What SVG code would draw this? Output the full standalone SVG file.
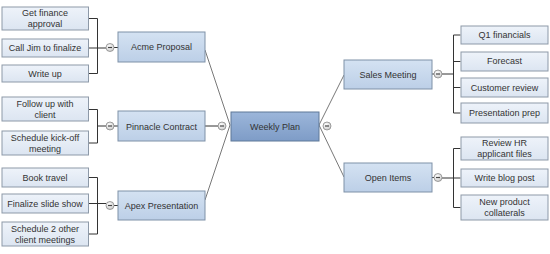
<svg xmlns="http://www.w3.org/2000/svg" width="550" height="254" viewBox="0 0 550 254">
<defs>
<linearGradient id="gLeaf" x1="0" y1="0" x2="0" y2="1"><stop offset="0" stop-color="#eef3fa"/><stop offset="1" stop-color="#dce5f1"/></linearGradient>
<linearGradient id="gMid" x1="0" y1="0" x2="0" y2="1"><stop offset="0" stop-color="#d4e2f2"/><stop offset="1" stop-color="#bccfe7"/></linearGradient>
<linearGradient id="gMain" x1="0" y1="0" x2="0" y2="1"><stop offset="0" stop-color="#9cb6da"/><stop offset="1" stop-color="#7e9cc7"/></linearGradient>
<radialGradient id="gBtn" cx="0.4" cy="0.35" r="0.7"><stop offset="0" stop-color="#ffffff"/><stop offset="1" stop-color="#c8c8c8"/></radialGradient>
<g id="btn"><circle r="4" fill="url(#gBtn)" stroke="#8a8a8a" stroke-width="0.8"/><line x1="-2" y1="0" x2="2" y2="0" stroke="#444" stroke-width="1.2"/></g>
</defs>
<style>
.leaf{fill:url(#gLeaf);stroke:#8d99a8;stroke-width:1}
.mid{fill:url(#gMid);stroke:#7f91a7;stroke-width:1}
.main{fill:url(#gMain);stroke:#5f7898;stroke-width:1}
text{font-family:"Liberation Sans",Arial,sans-serif;font-size:9px;fill:#333;text-anchor:middle}
.c{stroke:#333;stroke-width:1;fill:none}
.d{stroke:#555;stroke-width:0.8;fill:none}
</style>
<rect width="550" height="254" fill="#fff"/>
<g id="connectors">
<path class="c" d="M88.5 18.5H97.5V73.5H88.5M88.5 48H106M114 47.5H118"/>
<path class="c" d="M88.5 109.5H97.5V143H88.5M97.5 126H106M114 126H118"/>
<path class="c" d="M88.5 177.5H97.5V234H88.5M88.5 203.5H106M114 205.5H118"/>
<path class="c" d="M205 126H218"/>
<path class="c" d="M460.5 35H453.5V113H460.5M460.5 61.5H453.5M460.5 87.5H453.5M442 74H453.5M432 74H434"/>
<path class="c" d="M460.5 148.5H453.5V207.5H460.5M442 178H460.5M432 177.5H434"/>
<path class="d" d="M205 50L230 125L205 200"/>
<path class="d" d="M344 75L319 125L344 177"/>
</g>
<g id="weekly-plan"><rect class="main" x="231" y="112" width="88" height="29"/><text x="275" y="129.5">Weekly Plan</text><use href="#btn" x="222" y="126"/><use href="#btn" x="327" y="126"/></g>
<g id="acme-proposal"><rect class="mid" x="118" y="32" width="87" height="30"/><text x="161.5" y="50">Acme Proposal</text><use href="#btn" x="110" y="47.5"/></g>
<g id="pinnacle-contract"><rect class="mid" x="118" y="111" width="87" height="30"/><text x="161.5" y="129.5">Pinnacle Contract</text><use href="#btn" x="110" y="126"/></g>
<g id="apex-presentation"><rect class="mid" x="118" y="191" width="87" height="29"/><text x="161.5" y="209">Apex Presentation</text><use href="#btn" x="110" y="205.5"/></g>
<g id="sales-meeting"><rect class="mid" x="344" y="60" width="88" height="29"/><text x="388" y="77.5">Sales Meeting</text><use href="#btn" x="438" y="74"/></g>
<g id="open-items"><rect class="mid" x="344" y="163" width="88" height="29"/><text x="388" y="181">Open Items</text><use href="#btn" x="438" y="177.5"/></g>
<g id="get-finance"><rect class="leaf" x="2" y="7" width="86.5" height="23"/><text x="45" y="16">Get finance</text><text x="45" y="27">approval</text></g>
<g id="call-jim"><rect class="leaf" x="2" y="39" width="86.5" height="18"/><text x="45" y="51">Call Jim to finalize</text></g>
<g id="write-up"><rect class="leaf" x="2" y="65" width="86.5" height="17"/><text x="45" y="76.5">Write up</text></g>
<g id="follow-up"><rect class="leaf" x="2" y="97" width="86.5" height="24"/><text x="45" y="106.5">Follow up with</text><text x="45" y="117.5">client</text></g>
<g id="kick-off"><rect class="leaf" x="2" y="131" width="86.5" height="24"/><text x="45" y="140.5">Schedule kick-off</text><text x="45" y="151.5">meeting</text></g>
<g id="book-travel"><rect class="leaf" x="2" y="168" width="86.5" height="19"/><text x="45" y="180.5">Book travel</text></g>
<g id="finalize-slide"><rect class="leaf" x="2" y="194" width="86.5" height="19"/><text x="45" y="206.5">Finalize slide show</text></g>
<g id="schedule-2"><rect class="leaf" x="2" y="222" width="86.5" height="24"/><text x="45" y="231.5">Schedule 2 other</text><text x="45" y="242.5">client meetings</text></g>
<g id="q1"><rect class="leaf" x="461" y="26" width="87" height="18"/><text x="504.5" y="38">Q1 financials</text></g>
<g id="forecast"><rect class="leaf" x="461" y="52" width="87" height="19"/><text x="504.5" y="64">Forecast</text></g>
<g id="customer-review"><rect class="leaf" x="461" y="78" width="87" height="19"/><text x="504.5" y="90.5">Customer review</text></g>
<g id="presentation-prep"><rect class="leaf" x="461" y="103" width="87" height="20"/><text x="504.5" y="116">Presentation prep</text></g>
<g id="review-hr"><rect class="leaf" x="461" y="137" width="87" height="23"/><text x="504.5" y="146">Review HR</text><text x="504.5" y="157">applicant files</text></g>
<g id="write-blog"><rect class="leaf" x="461" y="169" width="87" height="18"/><text x="504.5" y="181">Write blog post</text></g>
<g id="new-product"><rect class="leaf" x="461" y="195" width="87" height="25"/><text x="504.5" y="205">New product</text><text x="504.5" y="216">collaterals</text></g>
</svg>
